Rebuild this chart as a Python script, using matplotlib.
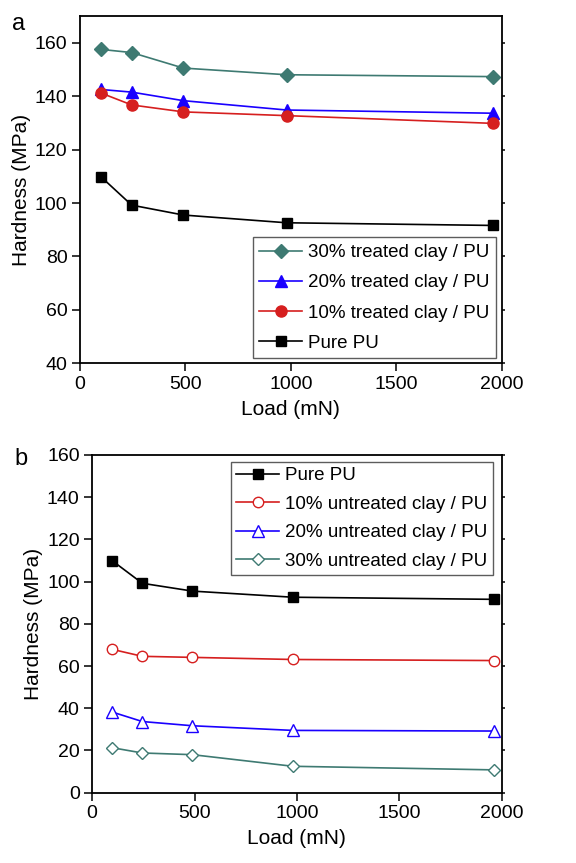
import matplotlib
matplotlib.use("Agg")
import matplotlib.pyplot as plt

plt.rcParams["font.family"] = ["Liberation Sans", "DejaVu Sans"]

load = [98, 245, 490, 980, 1960]

# panel a: treated clay
treated_30 = [157.5, 156.3, 150.5, 148.0, 147.3]
treated_20 = [142.5, 141.5, 138.3, 134.8, 133.6]
treated_10 = [141.2, 136.7, 134.1, 132.7, 129.8]
pure_pu = [109.9, 99.2, 95.5, 92.6, 91.6]

# panel b: untreated clay
untreated_10 = [67.9, 64.6, 64.1, 63.1, 62.6]
untreated_20 = [38.2, 33.7, 31.7, 29.5, 29.2]
untreated_30 = [21.3, 18.8, 18.0, 12.5, 10.8]

teal = "#3e7a72"
blue = "#1a00ff"
red = "#d61f1f"

fig = plt.figure(figsize=(5.76, 8.63), dpi=100)
ax_a = fig.add_axes([0.139, 0.579, 0.732, 0.4025])
ax_b = fig.add_axes([0.160, 0.0815, 0.711, 0.3913])


def style(ax):
    for s in ax.spines.values():
        s.set_linewidth(1.3)
    ax.tick_params(axis="both", which="major", direction="out", length=6,
                   width=1.1, labelsize=14, pad=3)
    ax.tick_params(axis="y", right=True, labelright=False)
    ax.set_xlim(0, 2000)
    ax.set_xticks([0, 500, 1000, 1500, 2000])
    ax.set_xlabel("Load (mN)", fontsize=15, labelpad=5)
    ax.set_ylabel("Hardness (MPa)", fontsize=15, labelpad=3)
    for t in ax.yaxis.get_major_ticks():
        t.tick2line.set_markersize(2.5)


kw = dict(linewidth=1.2)
ax_a.plot(load, treated_30, color=teal, marker="D", markersize=7,
          label="30% treated clay / PU", **kw)
ax_a.plot(load, treated_20, color=blue, marker="^", markersize=8,
          label="20% treated clay / PU", **kw)
ax_a.plot(load, treated_10, color=red, marker="o", markersize=8,
          label="10% treated clay / PU", **kw)
ax_a.plot(load, pure_pu, color="black", marker="s", markersize=7,
          label="Pure PU", **kw)
style(ax_a)
ax_a.set_ylim(40, 170)
ax_a.set_yticks(range(40, 161, 20))
leg = ax_a.legend(loc="lower right", bbox_to_anchor=(0.9865, 0.014), fontsize=13.5,
                  frameon=True, fancybox=False, edgecolor="#333333",
                  handlelength=2.3, labelspacing=0.7, borderpad=0.35,
                  handletextpad=0.3, borderaxespad=0)
leg.get_frame().set_linewidth(1.0)

ax_b.plot(load, pure_pu, color="black", marker="s", markersize=7,
          label="Pure PU", **kw)
ax_b.plot(load, untreated_10, color=red, marker="o", markersize=7.5,
          markerfacecolor="white", label="10% untreated clay / PU", **kw)
ax_b.plot(load, untreated_20, color=blue, marker="^", markersize=8,
          markerfacecolor="white", label="20% untreated clay / PU", **kw)
ax_b.plot(load, untreated_30, color=teal, marker="D", markersize=6.5,
          markerfacecolor="white", label="30% untreated clay / PU", **kw)
style(ax_b)
ax_b.set_ylim(0, 160)
ax_b.set_yticks(range(0, 161, 20))
leg = ax_b.legend(loc="upper right", bbox_to_anchor=(0.979, 0.98), fontsize=13.5,
                  frameon=True, fancybox=False, edgecolor="#333333",
                  handlelength=2.3, labelspacing=0.6, borderpad=0.3,
                  handletextpad=0.3, borderaxespad=0)
leg.get_frame().set_linewidth(1.0)

fig.text(0.033, 0.972, "a", fontsize=17, va="center", ha="center")
fig.text(0.036, 0.468, "b", fontsize=17, va="center", ha="center")

fig.savefig("out.png", dpi=100)
